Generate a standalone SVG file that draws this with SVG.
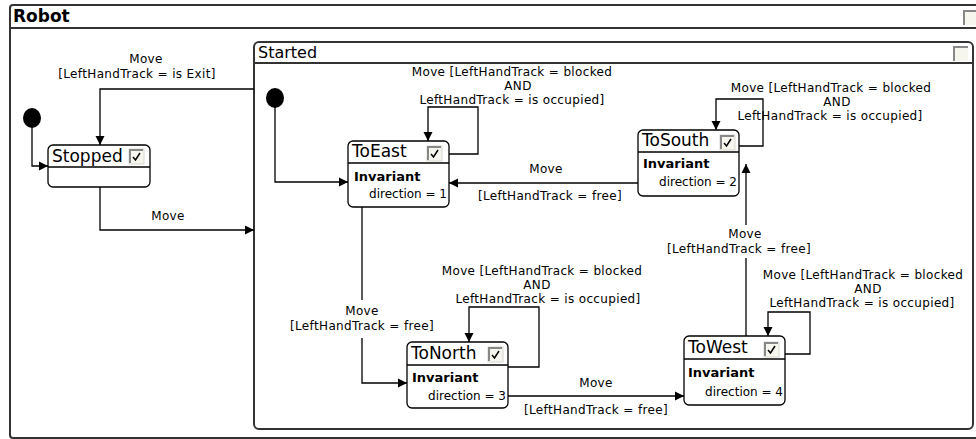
<svg xmlns="http://www.w3.org/2000/svg" width="976" height="439" viewBox="0 0 976 439">
<style>
  .frame{fill:#fff;stroke:#333;stroke-width:2}
  .node{fill:#fff;stroke:#000;stroke-width:1.3}
  .sep{stroke:#000;stroke-width:1.3}
  .title{font-family:"DejaVu Sans",sans-serif;font-size:17px;fill:#000}
  .ftitle{font-family:"DejaVu Sans",sans-serif;font-weight:bold;font-size:17px;fill:#000}
  .stitle{font-family:"DejaVu Sans",sans-serif;font-size:16px;fill:#000}
  .inv{font-family:"DejaVu Sans",sans-serif;font-weight:bold;font-size:13px;fill:#000}
  .dir{font-family:"DejaVu Sans",sans-serif;font-size:12px;fill:#000;text-anchor:end}
  .lbl{font-family:"DejaVu Sans",sans-serif;font-size:12px;letter-spacing:0.35px;fill:#000;text-anchor:middle}
  .edge{fill:none;stroke:#000;stroke-width:1.3}
  .cb{fill:#f6f6ee;stroke:#d8d8d0;stroke-width:1}
  .cbd{fill:none;stroke:#888;stroke-width:2}
  .ck{fill:none;stroke:#000;stroke-width:1.5}
  .dot{fill:#000}
</style>
<defs>
  <marker id="arr" viewBox="0 0 10 10" refX="10" refY="5" markerWidth="9" markerHeight="10" markerUnits="userSpaceOnUse" orient="auto">
    <path d="M0,0 L10,5 L0,10 z" fill="#000"/>
  </marker>
  <g id="check">
    <rect class="cb" x="0" y="0" width="15" height="15"/>
    <path class="cbd" d="M1,14 V1 H14"/>
    <path class="ck" d="M4,8 L6.5,11 L11,4"/>
  </g>
</defs>

<g id="robot">
  <rect class="frame" x="10" y="5" width="980" height="433" rx="3"/>
  <line x1="10" y1="28" x2="976" y2="28" stroke="#333" stroke-width="2"/>
  <text class="ftitle" x="13" y="22">Robot</text>
  <rect x="963" y="10" width="15" height="15" fill="#f6f6ee"/>
  <path d="M964,25 V11 H978" fill="none" stroke="#888" stroke-width="2"/>
</g>

<g id="started">
  <rect class="frame" x="254" y="42" width="719" height="387" rx="5"/>
  <line x1="254" y1="63" x2="973" y2="63" stroke="#333" stroke-width="2"/>
  <text class="stitle" x="258" y="58">Started</text>
  <rect x="953" y="46" width="15" height="15" fill="#f6f6ee"/>
  <path d="M954,61 V47 H968" fill="none" stroke="#888" stroke-width="2"/>
</g>

<g id="init-robot">
  <ellipse class="dot" cx="32" cy="118" rx="9" ry="10"/>
</g>
<g id="init-started">
  <ellipse class="dot" cx="275" cy="98" rx="9" ry="10"/>
</g>

<g id="stopped">
  <rect class="node" x="48" y="145" width="102" height="42" rx="5"/>
  <line class="sep" x1="48" y1="167" x2="150" y2="167"/>
  <text class="title" x="52" y="162">Stopped</text>
  <use href="#check" x="129" y="149"/>
</g>

<g id="toEast">
  <rect class="node" x="348" y="141" width="101" height="66" rx="5"/>
  <line class="sep" x1="348" y1="163" x2="449" y2="163"/>
  <text class="title" x="352" y="157">ToEast</text>
  <use href="#check" x="427" y="146"/>
  <text class="inv" x="354" y="181">Invariant</text>
  <text class="dir" x="447" y="198">direction = 1</text>
</g>

<g id="toSouth">
  <rect class="node" x="638" y="130" width="101" height="66" rx="5"/>
  <line class="sep" x1="638" y1="152" x2="739" y2="152"/>
  <text class="title" x="642" y="146">ToSouth</text>
  <use href="#check" x="720" y="135"/>
  <text class="inv" x="643" y="168">Invariant</text>
  <text class="dir" x="737" y="186">direction = 2</text>
</g>

<g id="toNorth">
  <rect class="node" x="407" y="342" width="101" height="66" rx="5"/>
  <line class="sep" x1="407" y1="365" x2="508" y2="365"/>
  <text class="title" x="411" y="359">ToNorth</text>
  <use href="#check" x="488" y="347"/>
  <text class="inv" x="412" y="382">Invariant</text>
  <text class="dir" x="506" y="400">direction = 3</text>
</g>

<g id="toWest">
  <rect class="node" x="684" y="336" width="101" height="69" rx="5"/>
  <line class="sep" x1="684" y1="359" x2="785" y2="359"/>
  <text class="title" x="688" y="353">ToWest</text>
  <use href="#check" x="764" y="342"/>
  <text class="inv" x="688" y="377">Invariant</text>
  <text class="dir" x="783" y="396">direction = 4</text>
</g>

<g id="connectors">
  <path class="edge" d="M32,127 V166 H48" marker-end="url(#arr)"/>
  <path class="edge" d="M254,89 H100 V145" marker-end="url(#arr)"/>
  <path class="edge" d="M100,187 V230 H254" marker-end="url(#arr)"/>
  <path class="edge" d="M275,107 V182 H348" marker-end="url(#arr)"/>
  <path class="edge" d="M449,154 H478 V107 H428 V141" marker-end="url(#arr)"/>
  <path class="edge" d="M638,183 H449" marker-end="url(#arr)"/>
  <path class="edge" d="M739,146 H763 V99 H716 V130" marker-end="url(#arr)"/>
  <path class="edge" d="M746,336 V258"/>
  <path class="edge" d="M746,225 V164" marker-end="url(#arr)"/>
  <path class="edge" d="M362,207 V300"/>
  <path class="edge" d="M362,338 V383 H407" marker-end="url(#arr)"/>
  <path class="edge" d="M508,367 H539 V307 H469 V342" marker-end="url(#arr)"/>
  <path class="edge" d="M508,396 H684" marker-end="url(#arr)"/>
  <path class="edge" d="M785,354 H810 V312 H768 V336" marker-end="url(#arr)"/>

  <text class="lbl" x="146" y="63">Move</text>
  <text class="lbl" x="137" y="78">[LeftHandTrack = is Exit]</text>
  <text class="lbl" x="168" y="220">Move</text>

  <text class="lbl" x="512" y="76">Move [LeftHandTrack = blocked</text>
  <text class="lbl" x="518" y="90">AND</text>
  <text class="lbl" x="512" y="104">LeftHandTrack = is occupied]</text>

  <text class="lbl" x="546" y="173">Move</text>
  <text class="lbl" x="550" y="200">[LeftHandTrack = free]</text>

  <text class="lbl" x="831" y="92">Move [LeftHandTrack = blocked</text>
  <text class="lbl" x="837" y="106">AND</text>
  <text class="lbl" x="830" y="120">LeftHandTrack = is occupied]</text>

  <text class="lbl" x="745" y="238">Move</text>
  <text class="lbl" x="739" y="253">[LeftHandTrack = free]</text>

  <text class="lbl" x="362" y="315">Move</text>
  <text class="lbl" x="362" y="330">[LeftHandTrack = free]</text>

  <text class="lbl" x="542" y="275">Move [LeftHandTrack = blocked</text>
  <text class="lbl" x="537" y="289">AND</text>
  <text class="lbl" x="548" y="303">LeftHandTrack = is occupied]</text>

  <text class="lbl" x="863" y="279">Move [LeftHandTrack = blocked</text>
  <text class="lbl" x="868" y="293">AND</text>
  <text class="lbl" x="862" y="307">LeftHandTrack = is occupied]</text>

  <text class="lbl" x="596" y="387">Move</text>
  <text class="lbl" x="596" y="414">[LeftHandTrack = free]</text>
</g>
</svg>
